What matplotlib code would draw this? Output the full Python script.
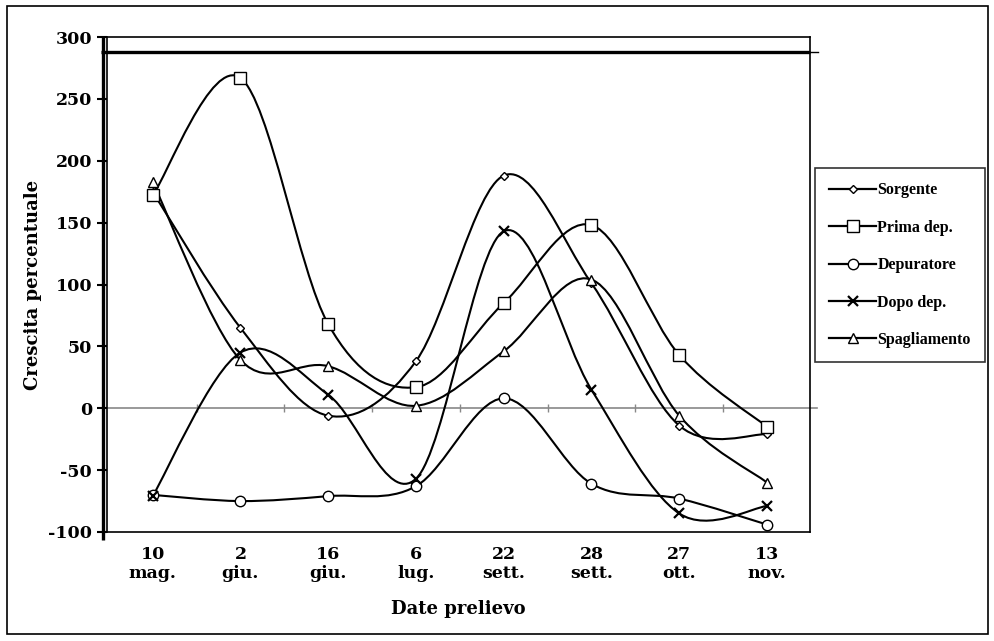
from matplotlib import pyplot as plt
from matplotlib.path import Path
from matplotlib.patches import PathPatch, Rectangle
from matplotlib.lines import Line2D
import numpy as np

# Data
dates = ["10\nmag.", "2\ngiu.", "16\ngiu.", "6\nlug.", "22\nsett.", "28\nsett.", "27\nott.", "13\nnov."]
sorgente = [175, 65, -6, 38, 188, 101, -14, -21]
prima_dep = [172, 267, 68, 17, 85, 148, 43, -15]
depuratore = [-70, -75, -71, -63, 8, -61, -73, -94]
dopo_dep = [-71, 45, 11, -57, 143, 15, -85, -79]
spagliamento = [183, 39, 34, 2, 46, 104, -6, -60]

series = [
    ("Sorgente", sorgente, dict(marker="D", markersize=4.5)),
    ("Prima dep.", prima_dep, dict(marker="s", markersize=8)),
    ("Depuratore", depuratore, dict(marker="o", markersize=7.5)),
    ("Dopo dep.", dopo_dep, dict(marker="x", markersize=7, markeredgewidth=1.6)),
    ("Spagliamento", spagliamento, dict(marker="^", markersize=7.5)),
]

plt.rcParams["font.family"] = ["DejaVu Serif"]
plt.rcParams["font.weight"] = "bold"
plt.rcParams["axes.labelweight"] = "bold"
plt.rcParams["axes.unicode_minus"] = False


def smooth_path(x, y):
    # Catmull-Rom style smoothing, like a spreadsheet "smoothed line"
    pts = np.column_stack([x, y]).astype(float)
    ext = np.vstack([pts[0], pts, pts[-1]])
    verts = [pts[0]]
    codes = [Path.MOVETO]
    for i in range(len(pts) - 1):
        p0, p1, p2, p3 = ext[i], ext[i + 1], ext[i + 2], ext[i + 3]
        c1 = p1 + (p2 - p0) / 6
        c2 = p2 - (p3 - p1) / 6
        verts += [c1, c2, p2]
        codes += [Path.CURVE4] * 3
    return Path(verts, codes)


fig = plt.figure(figsize=(9.94, 6.41), dpi=100)
ax = fig.add_axes([107 / 994, 1 - 532 / 641, 703 / 994, 495 / 641])

x = np.arange(len(dates))

# zero line with small separators
ax.axhline(0, xmin=0, xmax=1.01, color="#888888", lw=1.2, clip_on=False, zorder=1)
ax.plot(x[:-1] + 0.5, np.zeros(len(x) - 1), linestyle="none", marker="|",
        markersize=6, color="#888888", zorder=1)

for name, vals, style in series:
    ax.add_patch(PathPatch(smooth_path(x, vals), fill=False, edgecolor="black",
                           lw=1.5, zorder=2))
    ax.plot(x, vals, linestyle="none", color="black", markerfacecolor="white",
            markeredgecolor="black", zorder=3, **style)

ax.set_xlim(-0.52, 7.49)
ax.set_ylim(-100, 300)
ax.set_yticks(np.arange(-100, 301, 50))
ax.set_xticks(x)
ax.set_xticklabels(dates, fontsize=12.5, linespacing=1.15)
ax.tick_params(axis="x", length=0, pad=10)
ax.tick_params(axis="y", length=7.2, width=1.5, direction="out", pad=3.5, labelsize=12.5)

for s in ax.spines.values():
    s.set_linewidth(1.2)

# extra heavy rules seen on the original scan
ax.plot([-0.0057, -0.0057], [-0.016, 1.0], transform=ax.transAxes, color="black",
        lw=2.4, clip_on=False, solid_capstyle="butt")
ax.plot([-0.009, 1.0], [288, 288], transform=ax.get_yaxis_transform(), color="black",
        lw=2.4, clip_on=False, solid_capstyle="butt")
ax.plot([1.0, 1.012], [288, 288], transform=ax.get_yaxis_transform(), color="black",
        lw=1.0, clip_on=False)

ax.set_xlabel("Date prelievo", fontsize=13)
ax.xaxis.set_label_coords(0.5, -0.137)
ax.set_ylabel("Crescita percentuale", fontsize=13)
ax.yaxis.set_label_coords(-0.0925, 0.5)

handles = [
    Line2D([], [], color="black", lw=1.6, markerfacecolor="white",
           markeredgecolor="black", **style)
    for _, _, style in series
]
leg = fig.legend(handles, [s[0] for s in series], loc="upper left",
                 bbox_to_anchor=(815 / 994, 1 - 168 / 641),
                 prop={"family": "Liberation Serif", "weight": "bold", "size": 11.5},
                 frameon=True, fancybox=False, edgecolor="black", borderpad=0.9,
                 labelspacing=1.34, handlelength=2.9, handletextpad=0.1,
                 borderaxespad=0, numpoints=1)
leg.get_frame().set_linewidth(1.2)

# outer border of the figure
fig.patches.append(Rectangle((7 / 994, 1 - 634 / 641), 981 / 994, 628 / 641,
                             fill=False, edgecolor="black", lw=1.2,
                             transform=fig.transFigure))

fig.savefig("out.png", dpi=100)
